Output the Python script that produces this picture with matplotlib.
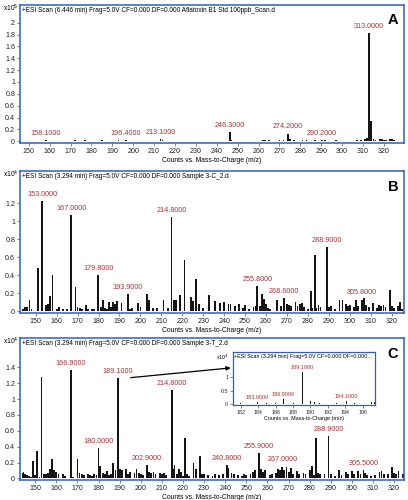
import matplotlib
matplotlib.use('Agg')
import matplotlib.pyplot as plt
from matplotlib.ticker import FormatStrFormatter

plt.rcParams['font.family'] = ['Liberation Sans', 'DejaVu Sans']

# ---- data ----
# Panel A, counts x10^5
a_mz = [150, 155, 158.1, 159, 163, 166, 168, 169, 171, 172, 177, 180, 185, 186, 190, 193,
        196.4, 199, 201, 206, 210, 213.1, 214, 216, 219, 222, 225, 228, 230, 233, 238, 241,
        246.3, 247, 250, 253, 256, 259, 262, 263, 265, 268, 270, 272, 274.2, 275, 277, 279,
        281, 283, 285, 287, 289, 290.2, 292, 295, 297, 299, 301, 303, 305, 307, 309, 311,
        312, 313.0, 314, 315, 316, 318, 319, 320, 321, 323, 324, 325]
a_int = [0.01, 0.01, 0.02, 0.01, 0.01, 0.01, 0.01, 0.01, 0.01, 0.02, 0.02, 0.01, 0.02, 0.01, 0.01, 0.02,
         0.02, 0.01, 0.01, 0.01, 0.01, 0.04, 0.02, 0.01, 0.01, 0.01, 0.01, 0.01, 0.01, 0.01, 0.01, 0.01,
         0.15, 0.02, 0.01, 0.01, 0.01, 0.01, 0.02, 0.02, 0.02, 0.01, 0.02, 0.02, 0.13, 0.03, 0.02, 0.01,
         0.02, 0.02, 0.01, 0.02, 0.01, 0.02, 0.02, 0.01, 0.02, 0.01, 0.01, 0.01, 0.01, 0.02, 0.02, 0.04,
         0.05, 1.82, 0.34, 0.04, 0.02, 0.03, 0.03, 0.02, 0.02, 0.04, 0.04, 0.02]
a_labels = [158.1, 196.4, 213.1, 246.3, 274.2, 290.2, 313.0]

# Panel B, counts x10^4
b_mz = [144, 145, 146, 147, 148, 151, 153.0, 155, 156, 157, 158, 160, 161, 163, 165,
        167.0, 169, 170, 171, 172, 174, 175, 177, 178, 179.8, 181, 182, 183, 184, 185,
        186, 187, 188, 189, 191, 193.9, 195, 196, 199, 200, 203, 204, 206, 208, 211, 213,
        214.8, 216, 217, 219, 221, 224, 225, 226.5, 228, 230, 232.6, 235.5, 238, 240, 242,
        243, 245, 247, 249, 250, 252, 254, 255, 255.8, 257, 258, 259, 260, 261, 262, 265.3,
        267, 268.6, 270, 271, 272, 274, 275, 276, 277, 278, 280, 281.3, 282, 283.2, 284, 285,
        286, 288.9, 290, 291, 293, 295, 296.5, 298, 299, 300, 302, 303, 304, 305.8, 306.8,
        307.8, 309, 311, 313, 314, 315, 316, 317, 319, 320, 321, 323, 324, 325]
b_int = [0.03, 0.05, 0.05, 0.12, 0.02, 0.48, 1.23, 0.07, 0.08, 0.17, 0.40, 0.03, 0.05, 0.02, 0.03,
         1.07, 0.27, 0.05, 0.04, 0.03, 0.07, 0.02, 0.02, 0.03, 0.40, 0.05, 0.12, 0.04, 0.03, 0.10,
         0.05, 0.10, 0.08, 0.11, 0.09, 0.19, 0.03, 0.04, 0.09, 0.05, 0.19, 0.12, 0.04, 0.04, 0.12, 0.04,
         1.05, 0.12, 0.13, 0.18, 0.57, 0.16, 0.11, 0.36, 0.08, 0.04, 0.18, 0.11, 0.09, 0.10, 0.08,
         0.08, 0.06, 0.08, 0.04, 0.07, 0.03, 0.05, 0.06, 0.28, 0.06, 0.19, 0.14, 0.08, 0.04, 0.03, 0.13,
         0.06, 0.15, 0.08, 0.07, 0.06, 0.10, 0.06, 0.08, 0.09, 0.05, 0.03, 0.22, 0.04, 0.63, 0.04, 0.07,
         0.05, 0.71, 0.05, 0.06, 0.03, 0.13, 0.12, 0.08, 0.06, 0.07, 0.05, 0.12, 0.06, 0.13, 0.15,
         0.07, 0.05, 0.09, 0.04, 0.07, 0.06, 0.07, 0.05, 0.24, 0.06, 0.04, 0.06, 0.10, 0.03]
b_labels = [153.0, 167.0, 179.8, 193.9, 214.8, 255.8, 268.6, 288.9, 305.8]

# Panel C, counts x10^4
c_mz = [144, 144.5, 145, 146, 147, 148, 149, 150, 151, 152, 153, 154, 155, 156, 157, 158,
        159, 160, 161, 163, 164, 166.9, 168, 170, 171, 172, 173, 175, 176, 177, 178, 179,
        180.0, 180.7, 182, 183, 184, 185, 186, 187, 188, 189.1, 190, 191, 193, 194, 195, 197,
        198, 199, 200, 201, 202.9, 204, 205, 206, 207, 209, 210, 211, 212, 214.8, 215.5, 216,
        217, 218, 219, 220, 221, 222, 223, 225, 226, 228, 229, 230, 232, 234, 235, 237, 239,
        240.8, 241.5, 243, 244, 246, 248, 249, 250, 252, 253, 254, 255.9, 257, 258, 259, 261,
        262, 264, 265, 266, 267.0, 268, 269, 270, 271, 272, 274, 275, 277, 278, 280, 281, 282,
        283, 284, 285, 287, 288.9, 290, 292, 294, 295, 297, 298, 300, 301, 303, 304, 305.5,
        306, 307, 309, 311, 313, 314, 315, 317, 319, 320, 321, 322, 324, 325]
c_int = [0.07, 0.08, 0.06, 0.04, 0.03, 0.02, 0.22, 0.04, 0.34, 0.02, 1.28, 0.05, 0.06, 0.07, 0.12, 0.25,
         0.10, 0.08, 0.05, 0.06, 0.03, 1.37, 0.02, 0.24, 0.07, 0.05, 0.04, 0.05, 0.04, 0.03, 0.05, 0.04,
         0.38, 0.16, 0.07, 0.05, 0.09, 0.04, 0.06, 0.19, 0.10, 1.27, 0.12, 0.10, 0.12, 0.05, 0.08, 0.07,
         0.12, 0.07, 0.06, 0.04, 0.17, 0.08, 0.07, 0.08, 0.05, 0.07, 0.06, 0.07, 0.04, 1.12, 0.12, 0.17,
         0.06, 0.12, 0.08, 0.03, 0.51, 0.05, 0.03, 0.20, 0.12, 0.28, 0.06, 0.06, 0.04, 0.03, 0.06, 0.04, 0.06,
         0.17, 0.13, 0.07, 0.06, 0.04, 0.03, 0.05, 0.04, 0.06, 0.08, 0.10, 0.32, 0.12, 0.08, 0.10, 0.04,
         0.06, 0.07, 0.12, 0.10, 0.15, 0.11, 0.14, 0.08, 0.13, 0.06, 0.09, 0.05, 0.07, 0.06, 0.11, 0.16, 0.04,
         0.51, 0.07, 0.05, 0.06, 0.54, 0.05, 0.03, 0.10, 0.04, 0.08, 0.06, 0.09, 0.05, 0.09, 0.05, 0.11,
         0.07, 0.04, 0.03, 0.04, 0.08, 0.09, 0.06, 0.05, 0.15, 0.07, 0.06, 0.09, 0.05, 0.06]
c_labels = [166.9, 180.0, 189.1, 202.9, 214.8, 240.8, 255.9, 267.0, 288.9, 305.5]

# Inset of panel C (zoom around 189.1), counts x10^4
i_mz = [182, 183.9, 185, 186, 186.9, 188, 189.1, 190, 190.5, 191, 193, 194.1, 195, 197, 197.3]
i_int = [0.02, 0.08, 0.02, 0.03, 0.17, 0.03, 1.20, 0.10, 0.08, 0.02, 0.02, 0.10, 0.02, 0.06, 0.05]
i_labels = [183.9, 186.9, 189.1, 194.1]

titles = ['+ESI Scan (6.446 min) Frag=5.0V CF=0.000 DF=0.000 Aflatoxin B1 Std 100ppb_Scan.d',
          '+ESI Scan (3.294 min) Frag=5.0V CF=0.000 DF=0.000 Sample 3-C_2.d',
          '+ESI Scan (3.294 min) Frag=5.0V CF=0.000 DF=0.000 Sample 3-T_2.d']
inset_title = '+ESI Scan (3.294 min) Frag=5.0V CF=0.000 DF=0.000...'
xlab = 'Counts vs. Mass-to-Charge (m/z)'

BLUE = '#2f5fbf'
RED = '#a8323a'
BAR = '#151515'


def style_axes(ax, fs):
    for s in ax.spines.values():
        s.set_color(BLUE)
        s.set_linewidth(1.1)
    ax.tick_params(labelsize=fs, length=2, width=0.5, color='#555555', pad=1.5,
                   labelcolor='#222222')
    ax.yaxis.set_major_formatter(FormatStrFormatter('%g'))


def panel(ax, mz, vals, labels, title, letter, exp, xlim, ylim, yticks):
    ax.bar(mz, vals, width=0.85, color=BAR, linewidth=0)
    for m in labels:
        v = vals[mz.index(m)]
        ax.annotate(f'{m:.4f}', xy=(m, v), xytext=(0, 2.2), textcoords='offset points',
                    ha='center', va='bottom', color=RED, fontsize=5.2)
    ax.set_xlim(*xlim)
    ax.set_ylim(*ylim)
    ax.set_xticks(range(150, 330, 10))
    ax.set_yticks(yticks)
    style_axes(ax, 5.1)
    ax.set_xlabel(xlab, fontsize=4.9, labelpad=1.5)
    ax.text(0.005, 0.985, title, transform=ax.transAxes, ha='left', va='top', fontsize=4.7)
    ax.text(0.985, 0.94, letter, transform=ax.transAxes, ha='right', va='top',
            fontsize=10.5, fontweight='bold')
    ax.text(-0.003, 0.975, 'x10$^{%d}$' % exp, transform=ax.transAxes, ha='right',
            va='center', fontsize=4.9)


fig = plt.figure(figsize=(4.08, 5.0), dpi=100)
axA = fig.add_axes([0.049, 0.714, 0.941, 0.276])
axB = fig.add_axes([0.049, 0.374, 0.941, 0.284])
axC = fig.add_axes([0.049, 0.040, 0.941, 0.284])

panel(axA, a_mz, a_int, a_labels, titles[0], 'A', 5, (145.8, 329.6), (-0.03, 2.3),
      [0, 0.2, 0.4, 0.6, 0.8, 1, 1.2, 1.4, 1.6, 1.8, 2])
panel(axB, b_mz, b_int, b_labels, titles[1], 'B', 4, (142.5, 325.8), (-0.02, 1.56),
      [0, 0.2, 0.4, 0.6, 0.8, 1, 1.2])
panel(axC, c_mz, c_int, c_labels, titles[2], 'C', 4, (142.8, 324.6), (-0.02, 1.77),
      [0, 0.2, 0.4, 0.6, 0.8, 1, 1.2, 1.4])

# inset
axI = fig.add_axes([0.571, 0.19, 0.348, 0.106])
axI.bar(i_mz, i_int, width=0.12, color=BAR, linewidth=0)
for m in i_labels:
    v = i_int[i_mz.index(m)]
    axI.annotate(f'{m:.4f}', xy=(m, v), xytext=(0, 1.5), textcoords='offset points',
                 ha='center', va='bottom', color=RED, fontsize=4.0)
axI.set_xlim(181.1, 197.4)
axI.set_ylim(-0.05, 1.97)
axI.set_xticks(range(182, 198, 2))
axI.set_yticks([0, 0.5, 1])
style_axes(axI, 3.8)
for s in axI.spines.values():
    s.set_linewidth(0.9)
axI.set_xlabel(xlab, fontsize=3.9, labelpad=1)
axI.text(0.01, 0.97, inset_title, transform=axI.transAxes, ha='left', va='top', fontsize=3.9)
axI.text(-0.03, 0.9, 'x10$^{4}$', transform=axI.transAxes, ha='right', va='center',
         fontsize=3.8)

# arrow from the 189.1 peak label to the inset
axC.annotate('', xy=(-0.016, 0.70), xycoords=axI.transAxes,
             xytext=(195.2, 1.27), textcoords='data',
             arrowprops=dict(arrowstyle='-|>', color='black', lw=0.9,
                             mutation_scale=6, shrinkA=0, shrinkB=0))

fig.savefig('out.png', dpi=100)
